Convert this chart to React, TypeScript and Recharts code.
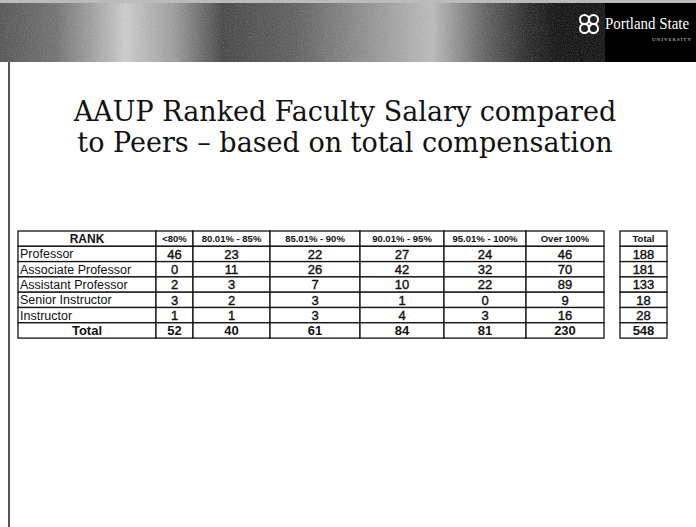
import { ScatterChart, Scatter, XAxis, YAxis } from "recharts";

// salary band columns and ranked faculty rows
const bandLabels = ["<80%", "80.01% - 85%", "85.01% - 90%", "90.01% - 95%", "95.01% - 100%", "Over 100%"];
const rankLabels = ["Professor", "Associate Professor", "Assistant Professor", "Senior Instructor", "Instructor"];

const professor = [46, 23, 22, 27, 24, 46];
const associateProfessor = [0, 11, 26, 42, 32, 70];
const assistantProfessor = [2, 3, 7, 10, 22, 89];
const seniorInstructor = [3, 2, 3, 1, 0, 9];
const instructor = [1, 1, 3, 4, 3, 16];
const bandTotals = [52, 40, 61, 84, 81, 230];
const rankTotals = [188, 181, 133, 18, 28];
const grandTotal = 548;

// layout: column widths in px (rank col, 6 bands, gap, total box)
const COL_WIDTHS = [138, 37, 77, 90, 84, 82, 78, 16, 47];
const TABLE_LEFT = 18;
const TABLE_TOP = 231;
const ROW_H = 15.3;
const W = 696;
const H = 527;
const FONT = "'Liberation Sans', Arial, sans-serif";

const tableWidth = COL_WIDTHS.reduce((a, b) => a + b, 0);
const colCenter = (c: number) => COL_WIDTHS.slice(0, c).reduce((a, b) => a + b, 0) + COL_WIDTHS[c] / 2;

type Cell = { x: number; y: number; col: number; text: string; kind: string };

const bodyRows = [professor, associateProfessor, assistantProfessor, seniorInstructor, instructor];
const cells: Cell[] = [];
cells.push({ x: colCenter(0), y: 0, col: 0, text: "RANK", kind: "head" });
bandLabels.forEach((b, i) => cells.push({ x: colCenter(i + 1), y: 0, col: i + 1, text: b, kind: "head" }));
cells.push({ x: colCenter(8), y: 0, col: 8, text: "Total", kind: "head" });
bodyRows.forEach((vals, r) => {
  cells.push({ x: colCenter(0), y: r + 1, col: 0, text: rankLabels[r], kind: "rank" });
  vals.forEach((v, i) => cells.push({ x: colCenter(i + 1), y: r + 1, col: i + 1, text: String(v), kind: "num" }));
  cells.push({ x: colCenter(8), y: r + 1, col: 8, text: String(rankTotals[r]), kind: "num" });
});
cells.push({ x: colCenter(0), y: 6, col: 0, text: "Total", kind: "total" });
bandTotals.forEach((v, i) => cells.push({ x: colCenter(i + 1), y: 6, col: i + 1, text: String(v), kind: "total" }));
cells.push({ x: colCenter(8), y: 6, col: 8, text: String(grandTotal), kind: "total" });

const TableCell = (props: any) => {
  const { cx, cy, payload } = props;
  const w = COL_WIDTHS[payload.col];
  const left = cx - w / 2;
  const isRank = payload.kind === "rank";
  const bold = payload.kind === "head" || payload.kind === "total";
  const size = payload.kind === "head" ? (payload.col === 0 ? 12 : 9.5) : payload.kind === "rank" ? 12.5 : 13;
  return (
    <g>
      <rect x={left} y={cy - ROW_H / 2} width={w} height={ROW_H} fill="#fff" stroke="#111" strokeWidth={1.3} />
      <text
        x={isRank ? left + 2 : cx}
        y={cy + size * 0.36}
        textAnchor={isRank ? "start" : "middle"}
        fontFamily={FONT}
        fontSize={size}
        fontWeight={bold ? "bold" : "normal"}
        fill="#111"
        stroke={payload.kind === "num" ? "#111" : "none"}
        strokeWidth={0.4}
      >
        {payload.text}
      </text>
    </g>
  );
};

export default function App() {
  return (
    <div style={{ position: "absolute", left: 0, top: 0, width: W, height: H, background: "#fff", overflow: "hidden" }}>
      {/* banner */}
      <div
        style={{
          position: "absolute",
          left: 0,
          top: 0,
          width: W,
          height: 62,
          background:
            "linear-gradient(90deg, #4a4a4a 0%, #6a6a6a 8%, #cfcfcf 18%, #9a9a9a 25%, #3a3a3a 32%, #555 42%, #8a8a8a 52%, #bdbdbd 62%, #555 70%, #1a1a1a 76%, #000 80%, #000 100%)",
          borderTop: "3px solid #bbb",
          boxSizing: "border-box",
        }}
      />
      <svg style={{ position: "absolute", left: 0, top: 0 }} width={W} height={62}>
        <filter id="grain">
          <feTurbulence type="fractalNoise" baseFrequency="0.9" numOctaves={2} seed={3} />
          <feColorMatrix type="saturate" values="0" />
        </filter>
        <rect width={550} height={62} filter="url(#grain)" opacity={0.35} />
        <g transform="translate(589,24)" fill="none" stroke="#fff" strokeWidth={2}>
          <ellipse cx={-4.5} cy={-4.5} rx={4.5} ry={4.5} />
          <ellipse cx={4.5} cy={-4.5} rx={4.5} ry={4.5} />
          <ellipse cx={-4.5} cy={4.5} rx={4.5} ry={4.5} />
          <ellipse cx={4.5} cy={4.5} rx={4.5} ry={4.5} />
        </g>
        <text x={605} y={29} fill="#fff" fontFamily="'Liberation Serif', serif" fontSize={16} textLength={84} lengthAdjust="spacingAndGlyphs">
          Portland State
        </text>
        <text x={652} y={41} fill="#ddd" fontFamily="'Liberation Serif', serif" fontSize={5} letterSpacing={1}>
          UNIVERSITY
        </text>
      </svg>
      {/* left rule */}
      <div style={{ position: "absolute", left: 8, top: 62, width: 2, height: H - 62, background: "#555" }} />
      {/* title */}
      <div
        style={{
          position: "absolute",
          left: 0,
          top: 96,
          width: 690,
          textAlign: "center",
          fontFamily: "'DejaVu Serif', serif",
          fontSize: 27,
          lineHeight: "31px",
          color: "#111",
        }}
      >
        AAUP Ranked Faculty Salary compared
        <br />
        to Peers – based on total compensation
      </div>
      <div style={{ position: "absolute", left: 0, top: 0 }}>
        <ScatterChart
          width={W}
          height={H}
          margin={{
            top: TABLE_TOP,
            left: TABLE_LEFT,
            right: W - TABLE_LEFT - tableWidth,
            bottom: H - TABLE_TOP - ROW_H * 7,
          }}
        >
          <XAxis type="number" dataKey="x" domain={[0, tableWidth]} hide />
          <YAxis type="number" dataKey="y" domain={[-0.5, 6.5]} reversed hide />
          <Scatter data={cells} shape={TableCell} isAnimationActive={false} />
        </ScatterChart>
      </div>
    </div>
  );
}
